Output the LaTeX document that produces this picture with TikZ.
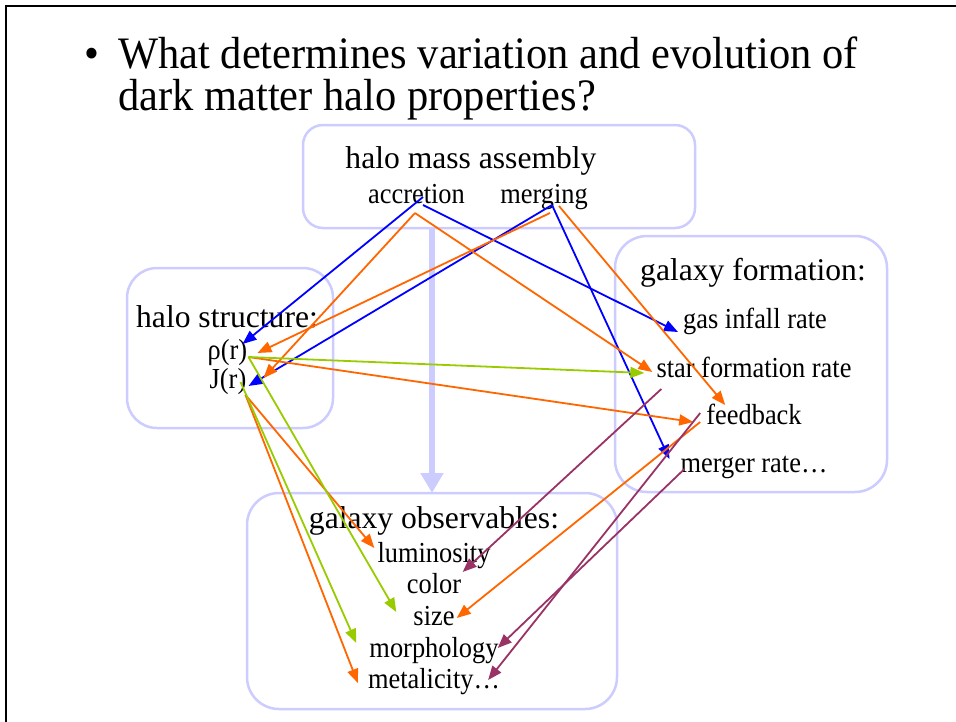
\documentclass[tikz,border=0pt]{standalone}
\usepackage{fontspec}
\setmainfont{Liberation Serif}
\newfontfamily\ttlfont[FakeStretch=0.944]{Liberation Serif}
\newfontfamily\itmfont[FakeStretch=0.91]{Liberation Serif}
\usepackage{tikz}
\usetikzlibrary{arrows.meta}
\definecolor{lav}{RGB}{204,204,255}
\definecolor{ora}{RGB}{255,102,0}
\definecolor{grn}{RGB}{153,204,0}
\definecolor{pur}{RGB}{153,51,102}
\definecolor{blu}{RGB}{0,0,255}
\tikzset{
  hbox/.style={draw=lav,line width=2.5pt,rounded corners=#1,inner sep=0pt,outer sep=0pt},
  ttl/.style={font=\ttlfont\fontsize{45}{50}\selectfont,inner sep=0pt,anchor=base west},
  big/.style={font=\fontsize{31.6}{36}\selectfont,inner sep=0pt,anchor=base},
  itm/.style={font=\itmfont\fontsize{29}{33}\selectfont,inner sep=0pt,anchor=base},
  arr/.style={#1,line width=1.8pt,-{Triangle[length=14pt,width=11pt]}}
}

\begin{document}
\begin{tikzpicture}[x=1pt,y=-1pt]
  \useasboundingbox (0,0) rectangle (956,721);
  \draw[line width=2.5pt] (6,722) -- (6,6) -- (957,6);
  \node[ttl,anchor=base] (bul) at (92,68) {•};
  \node[ttl] (t1) at (118,68) {What determines variation and evolution of};
  \node[ttl] (t2) at (118,110) {dark matter halo properties?};
  % boxes
  \node[hbox=20pt,minimum width=392pt,minimum height=103pt] (hma) at (499,176.5) {};
  \node[hbox=30pt,minimum width=206pt,minimum height=160pt] (hst) at (230,348) {};
  \node[hbox=32pt,minimum width=272pt,minimum height=256pt] (gfo) at (751,364) {};
  \node[hbox=32pt,minimum width=370pt,minimum height=216pt] (gob) at (432,601) {};
  \draw[lav,line width=6pt,-{Triangle[length=20pt,width=22pt]}] (gob.north |- hma.south) -- (gob.north);
  % texts
  \node[big] (hmat) at (471,168) {halo mass assembly};
  \node[itm] (acc) at (416.5,203) {accretion}; \node[itm] (mer) at (544,203) {merging};
  \node[big] (hstt) at (227,327) {halo structure:};
  \node[itm] (rho) at (227.5,359) {ρ(r)}; \node[itm] (jr) at (228,388) {J(r)};
  \node[big] (gfot) at (753,280) {galaxy formation:};
  \node[itm] (gas) at (755,328) {gas infall rate};
  \node[itm] (sfr) at (754,377) {star formation rate};
  \node[itm] (fb) at (754,424) {feedback};
  \node[itm] (mr) at (754,472) {merger rate…};
  \node[big] (gobt) at (434,528) {galaxy observables:};
  \node[itm] (lum) at (434,562) {luminosity};
  \node[itm] (col) at (434,593) {color};
  \node[itm] (siz) at (434,625) {size};
  \node[itm] (mor) at (434,657) {morphology};
  \node[itm] (met) at (434,688) {metalicity…};
  % halo -> galaxy
  \draw[arr=blu] ([shift={(6.5,-6)}]acc.base) -- ([shift={(-5,-15)}]rho.base east);
  \draw[arr=blu] ([shift={(6.5,2)}]acc.base) -- ([shift={(-5,4)}]gas.base west);
  \draw[arr=blu] ([shift={(8,2)}]mer.base) -- ([shift={(2,-2)}]jr.base east);
  \draw[arr=blu] ([shift={(8,2)}]mer.base) -- ([shift={(-11,-13)}]mr.base west);
  \draw[arr=ora] ([shift={(-1.5,10)}]acc.base) -- ([shift={(17,-10)}]jr.base east);
  \draw[arr=ora] ([shift={(-1.5,10)}]acc.base) -- ([shift={(-4,-5)}]sfr.base west);
  \draw[arr=ora] ([shift={(6,10)}]mer.base) -- ([shift={(10,-6)}]rho.base east);
  \draw[arr=ora] ([shift={(15,3)}]mer.base) -- ([shift={(19,-19)}]fb.base west);
  \draw[arr=ora] ([shift={(1,-2)}]rho.base east) -- ([shift={(-13,-2)}]fb.base west);
  \draw[arr=ora] ([shift={(-1,7)}]jr.base east) -- ([shift={(-3,-14)}]lum.base west);
  \draw[arr=ora] ([shift={(-1,7)}]jr.base east) -- ([shift={(-10,-5)}]met.base west);
  \draw[arr=ora] ([shift={(-6,-2)}]fb.base west) -- ([shift={(2,-7)}]siz.base east);
  \draw[arr=grn] ([shift={(1,-2)}]rho.base east) -- ([shift={(-12,-4)}]sfr.base west);
  \draw[arr=grn] ([shift={(1,-2)}]rho.base east) -- ([shift={(-17,-13)}]siz.base west);
  \draw[arr=grn] ([shift={(-6,-6)}]jr.base east) -- ([shift={(-13,-14)}]mor.base west);
  \draw[arr=pur] ([shift={(5,12)}]sfr.base west) -- ([shift={(-28,10)}]lum.base east);
  \draw[arr=pur] ([shift={(-6,-11)}]fb.base west) -- ([shift={(-12,-8)}]met.base east);
  \draw[arr=pur] ([shift={(4,-3)}]mr.base west) -- ([shift={(-1,-9)}]mor.base east);
\end{tikzpicture}
\end{document}
